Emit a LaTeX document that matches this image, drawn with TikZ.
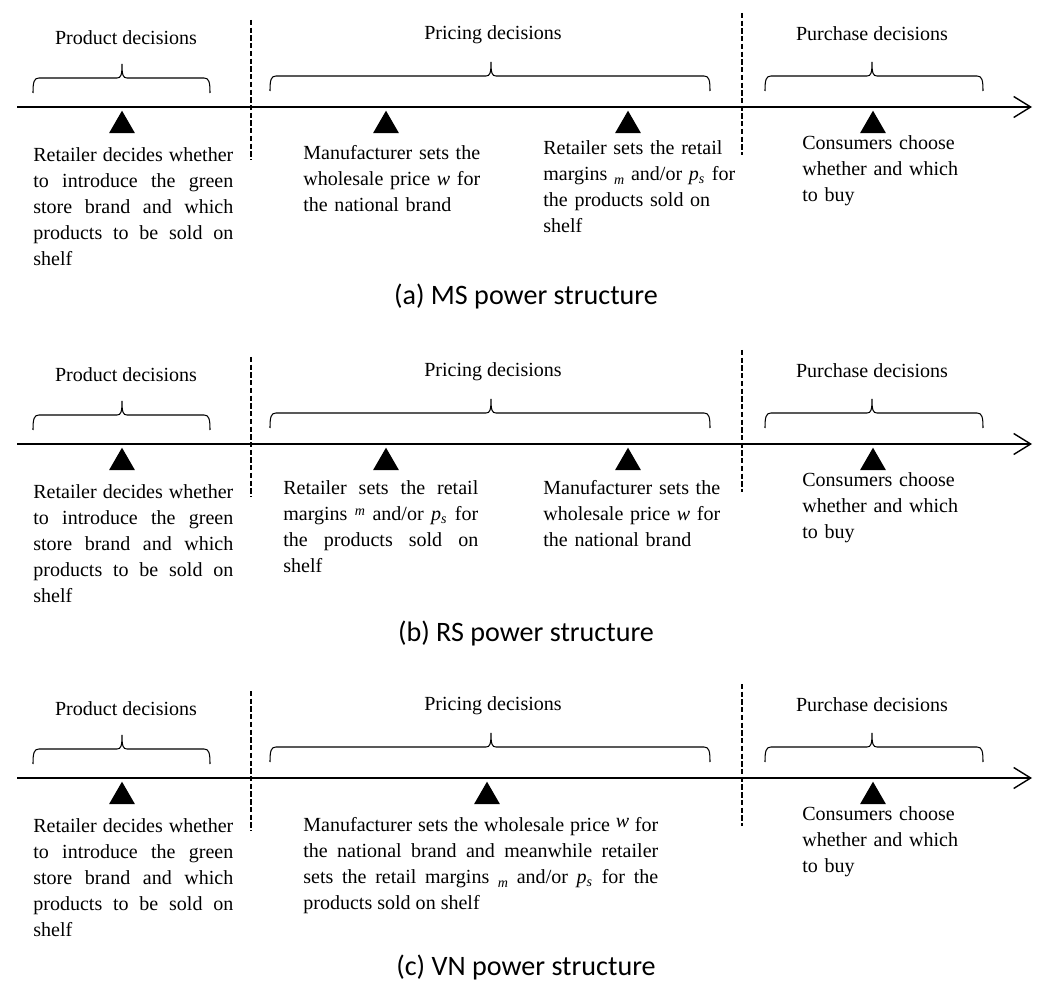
\documentclass[tikz,border=0pt]{standalone}
\usepackage{fontspec}
\setmainfont{Liberation Serif}
\newfontfamily\capfont{Carlito}
\usetikzlibrary{arrows.meta,shapes.geometric}
\tikzset{
  axisline/.style={line width=0.8pt,-{Straight Barb[length=0.34cm,width=0.42cm]}},
  stageline/.style={line width=0.9pt,dash pattern=on 3pt off 1.4pt},
  braceline/.style={line width=0.6pt},
  stagelabel/.style={inner sep=0pt,font=\fontsize{11.4}{14.8}\selectfont},
  evtext/.style={anchor=north west,inner sep=0pt,align=left,text width=4.2cm,font=\fontsize{11.4}{14.8}\selectfont},
  evtri/.style={regular polygon,regular polygon sides=3,fill=black,inner sep=0pt,minimum size=0.6cm,anchor=north},
  captext/.style={inner sep=0pt,font=\capfont\fontsize{16}{19}\selectfont}
}
% brace over a stage: left x, tip x, right x, height
\newcommand\timebrace[4]{%
  \draw[braceline] (#1,#4+15) .. controls (#1,#4+4) and (#1+1,#4) .. (#1+6,#4) -- (#2-5,#4)
    .. controls (#2-1,#4) and (#2,#4-3) .. (#2,#4-14)
    .. controls (#2,#4-3) and (#2+1,#4) .. (#2+5,#4) -- (#3-6,#4)
    .. controls (#3-1,#4) and (#3,#4+4) .. (#3,#4+15);}
\newcommand\mlow{\raisebox{-0.45ex}{\footnotesize\textit{m}}}
\newcommand\mhigh{\raisebox{0.5ex}{\footnotesize\textit{m}}}
\newcommand\ps{\textit{p}\textsubscript{\textit{s}}}
\begin{document}
\begin{tikzpicture}[x=0.02cm,y=-0.02cm]
\useasboundingbox (0,0) rectangle (1049,983);
% parts shared by the three timelines
\foreach \p/\dy/\pw in {a/0/MS,b/337/RS,c/671/VN}{
  \begin{scope}[shift={(0,\dy)}]
    \draw[axisline] (17,107) coordinate (start\p) -- (1032,107) coordinate (end\p);
    \draw[stageline] (251,20) -- (251,160);
    \draw[stageline] (742,13) -- (742,155);
    \timebrace{33}{122}{210}{78}
    \timebrace{270}{491}{710}{76}
    \timebrace{765}{872}{983}{76}
    \node[stagelabel] (prod\p) at (126,38) {Product decisions};
    \node[stagelabel] (pric\p) at (493,35) {Pricing decisions};
    \node[stagelabel] (purc\p) at (872,34) {Purchase decisions};
    \node[evtri] (first\p) at (122,110) {};
    \node[evtri] (last\p) at (873,110) {};
    \node[evtext,align=justify,text width=4cm] (intro\p) at (33,147)
      {Retailer decides whether\linebreak to introduce the green\linebreak store brand and which\linebreak products to be sold on\linebreak shelf};
    \node[evtext] (buy\p) at (802,135) {Consumers choose\\whether and which\\to buy};
    \node[captext] (cap\p) at (526,296) {(\p) \pw\ power structure};
  \end{scope}
}
% (a) MS
\node[evtri] (wa) at (386,110) {};
\node[evtri] (ma) at (628,110) {};
\node[evtext] (wtexta) at (303,145) {Manufacturer sets the\\wholesale price \textit{w} for\\the national brand};
\node[evtext] (mtexta) at (543,140) {Retailer sets the retail\\margins \mlow\ and/or \ps\ for\\the products sold on\\shelf};
% (b) RS
\node[evtri] (mb) at (386,447) {};
\node[evtri] (wb) at (628,447) {};
\node[evtext,align=justify,text width=3.9cm] (mtextb) at (283,480) {Retailer sets the retail\linebreak margins \mhigh\ and/or \ps\ for\linebreak the products sold on\linebreak shelf};
\node[evtext] (wtextb) at (543,480) {Manufacturer sets the\\wholesale price \textit{w} for\\the national brand};
% (c) VN
\node[evtri] (wmc) at (487,781) {};
\node[evtext,align=justify,text width=7.1cm] (wmtextc) at (303,817) {Manufacturer sets the wholesale price \raisebox{0.4ex}{\textit{w}} for\linebreak the national brand and meanwhile retailer\linebreak sets the retail margins \mlow\ and/or \ps\ for the\linebreak products sold on shelf};
\end{tikzpicture}
\end{document}
